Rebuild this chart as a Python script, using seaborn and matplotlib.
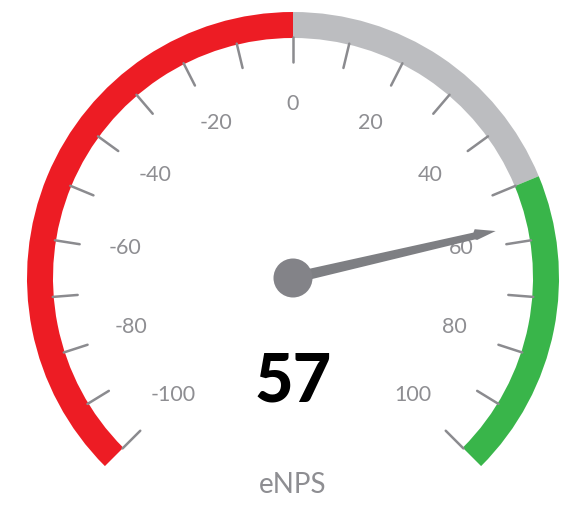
import numpy as np
import pandas as pd
import matplotlib
matplotlib.use("Agg")
import matplotlib.pyplot as plt
from matplotlib.patches import Wedge, Circle, Polygon
import seaborn as sns

# Gauge content
score = 57
title = "eNPS"
scale_min, scale_max = -100, 100
band_edges = [-100, 0, 50, 100]
band_colors = ["#ed1c24", "#bcbdc0", "#39b54a"]
tick_values = list(range(-100, 101, 10))
label_values = list(range(-100, 101, 20))

sns.set_theme(style="white")
plt.rcParams["font.family"] = ["Lato", "DejaVu Sans"]

W, H = 564, 513
fig = plt.figure(figsize=(W / 100, H / 100), dpi=100)
ax = fig.add_axes([0, 0, 1, 1])
ax.set_xlim(0, W)
ax.set_ylim(0, H)
ax.set_aspect("equal")
ax.axis("off")

cx, cy = 293, H - 278
r_out, r_in = 266, 240


def ang(v):
    # -100 at 225 deg, +100 at -45 deg (270 deg sweep)
    return 225 - (v - scale_min) / (scale_max - scale_min) * 270


# coloured bands
for lo, hi, col in zip(band_edges[:-1], band_edges[1:], band_colors):
    ax.add_patch(Wedge((cx, cy), r_out, ang(hi), ang(lo), width=r_out - r_in,
                       facecolor=col, edgecolor="none"))

# tick marks
ticks = []
for i, v in enumerate(tick_values):
    a = np.radians(ang(v))
    for rr in (r_in + 1, r_in - 24):
        ticks.append({"x": cx + rr * np.cos(a), "y": cy + rr * np.sin(a), "tick": i})
ticks = pd.DataFrame(ticks)
sns.lineplot(data=ticks, x="x", y="y", units="tick", estimator=None, sort=False,
             color="#8b8b8f", linewidth=1.8, ax=ax, legend=False)

# scale labels
r_lab = 170
for v in label_values:
    a = np.radians(ang(v))
    lx = cx + r_lab * np.cos(a)
    ly = cy + r_lab * np.sin(a) + 5
    ax.text(lx, ly - 7.5, f"{v}", ha="center", va="baseline",
            fontsize=15.5, color="#8e8e92")

# needle
a = np.radians(ang(score))
u = np.array([np.cos(a), np.sin(a)])
n = np.array([-np.sin(a), np.cos(a)])
shape = [(0, 5.5), (186, 3.5), (188, 6.5), (208, 0), (188, -4.5), (186, -3.5), (0, -5.5)]
pts = [(cx + s * u[0] + t * n[0], cy + s * u[1] + t * n[1]) for s, t in shape]
ax.add_patch(Polygon(pts, closed=True, facecolor="#7e7f83", edgecolor="none", zorder=4))
ax.add_patch(Circle((cx, cy), 19.5, facecolor="#838388", edgecolor="none", zorder=5))

# value and title
ax.text(cx, H - 378 - 23.5, f"{score}", ha="center", va="baseline",
        fontsize=48, fontweight="black", color="#000000")
ax.text(cx, H - 484 - 9, title, ha="center", va="baseline",
        fontsize=20, color="#8e8e92")

fig.savefig("out.png", dpi=100)
